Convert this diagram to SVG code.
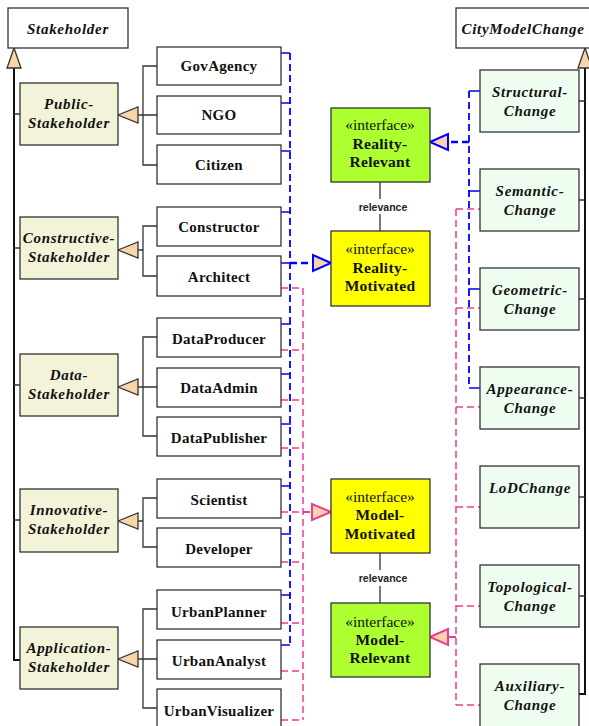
<svg xmlns="http://www.w3.org/2000/svg" width="589" height="726" viewBox="0 0 589 726">
<style>
.box{stroke:#333;stroke-width:1.3}
.leaf{fill:#fff}
.abs{fill:#f3f3da}
.chg{fill:#effdf0}
.ifg{fill:#adff2f}
.ify{fill:#ffff00}
.t{font-family:"Liberation Serif","Times New Roman",serif;font-size:15px;fill:#111;text-anchor:middle}
.b{font-weight:bold;letter-spacing:0.3px}
.bi{font-weight:bold;font-style:italic;letter-spacing:0.7px}
.if{font-size:15.5px}
.rel{font-family:"Liberation Sans",Arial,sans-serif;font-size:10.5px;font-weight:bold;fill:#222;text-anchor:middle}
.gen{stroke:#333;stroke-width:1.3;fill:none}
.gb{stroke:#111;stroke-width:2;fill:none}
.tri{fill:#f8d5a8;stroke:#333;stroke-width:1.3}
.blue{stroke:#0000ff;stroke-width:1.8;stroke-dasharray:7 4;fill:none}
.blues{stroke:#0000ff;stroke-width:1.3;fill:none}
.bluet{stroke:#0000ff;stroke-width:2.4;stroke-dasharray:7 4;fill:none}
.pink{stroke:#ee3a96;stroke-width:1.5;stroke-dasharray:7 4;fill:none}
.pinkt{stroke:#ee3a96;stroke-width:2;stroke-dasharray:7 4;fill:none}
.trib{fill:#f8d5a8;stroke:#0000ff;stroke-width:2}
.trip{fill:#f8d5a8;stroke:#ee3a96;stroke-width:2}
</style>
<g id="connectors">
<path class="gb" d="M14,68 V660 H20"/>
<path class="gen" d="M14,114 H20 M14,248 H20 M14,385 H20 M14,520 H20"/>
<polygon class="tri" points="14,48 7,68 21,68"/>
<path class="gb" d="M585,68 V694 H579"/>
<path class="gen" d="M579,101 H585 M579,200 H585 M579,299 H585 M579,398 H585 M579,497 H585 M579,596 H585"/>
<polygon class="tri" points="585,48 578,68 592,68"/>
<path class="gen" d="M138,115 H143 M157,66 H143 V165 H157 M143,115 H157"/>
<polygon class="tri" points="118,115 138,107 138,123"/>
<path class="gen" d="M138,250 H143 M157,226 H143 V276 H157"/>
<polygon class="tri" points="118,250 138,242 138,258"/>
<path class="gen" d="M138,387 H143 M157,337 H143 V436 H157 M143,387 H157"/>
<polygon class="tri" points="118,387 138,379 138,395"/>
<path class="gen" d="M138,521 H143 M157,498 H143 V547 H157"/>
<polygon class="tri" points="118,521 138,513 138,529"/>
<path class="gen" d="M138,659 H143 M157,609 H143 V708 H157 M143,659 H157"/>
<polygon class="tri" points="118,659 138,651 138,667"/>
<path class="blue" d="M290,53 V645"/>
<path class="blues" d="M281,53 H290 M281,103 H291 M281,151 H291 M281,212 H291 M281,263 H291 M281,324 H291 M281,374 H291 M281,424 H291 M281,486 H291 M281,534 H291 M281,595 H291 M281,645 H290"/>
<path class="bluet" d="M290,263 H313"/>
<polygon class="trib" points="331,263 313,255 313,271"/>
<path class="pink" d="M303,288 V720"/>
<path class="pink" d="M281,288 H303 M281,350 H303 M281,400 H303 M281,448 H303 M281,562 H303 M281,623 H303 M281,671 H303 M281,720 H303 M281,512 H303"/>
<path class="pinkt" d="M303,512 H312"/>
<polygon class="trip" points="331,512 312,504 312,520"/>
<path class="blue" d="M469,91 V388"/>
<path class="blues" d="M469,91 H480 M468,191 H480 M468,289 H480 M469,388 H480"/>
<path class="bluet" d="M469,142 H448"/>
<polygon class="trib" points="430,142 448,134 448,150"/>
<path class="pink" d="M456,209 V705"/>
<path class="pink" d="M456,209 H480 M456,308 H480 M456,407 H480 M456,507 H480 M456,606 H480 M456,705 H480"/>
<path class="pinkt" d="M456,637 H448"/>
<polygon class="trip" points="430,637 448,629 448,645"/>
<path class="gen" d="M380,182 V199 M380,214 V231 M380,553 V570 M380,586 V603"/>
<text class="rel" x="383" y="211">relevance</text>
<text class="rel" x="383" y="582">relevance</text>
</g>
<g id="Stakeholder"><rect class="box leaf" x="8" y="8" width="120" height="40"/><text class="t bi" x="68" y="34">Stakeholder</text></g>
<g id="CityModelChange"><rect class="box leaf" x="456" y="8" width="140" height="40"/><text class="t bi" x="523" y="34">CityModelChange</text></g>
<g id="PublicStakeholder"><rect class="box abs" x="20" y="83" width="98" height="62"/><text class="t bi" x="69" y="109">Public-</text><text class="t bi" x="69" y="128">Stakeholder</text></g>
<g id="ConstructiveStakeholder"><rect class="box abs" x="20" y="217" width="98" height="62"/><text class="t bi" x="69" y="243">Constructive-</text><text class="t bi" x="69" y="262">Stakeholder</text></g>
<g id="DataStakeholder"><rect class="box abs" x="20" y="354" width="98" height="62"/><text class="t bi" x="69" y="380">Data-</text><text class="t bi" x="69" y="399">Stakeholder</text></g>
<g id="InnovativeStakeholder"><rect class="box abs" x="20" y="489" width="98" height="63"/><text class="t bi" x="69" y="515">Innovative-</text><text class="t bi" x="69" y="534">Stakeholder</text></g>
<g id="ApplicationStakeholder"><rect class="box abs" x="20" y="627" width="98" height="62"/><text class="t bi" x="69" y="653">Application-</text><text class="t bi" x="69" y="672">Stakeholder</text></g>
<g id="GovAgency"><rect class="box leaf" x="157" y="47" width="124" height="38"/><text class="t b" x="219" y="71">GovAgency</text></g>
<g id="NGO"><rect class="box leaf" x="157" y="96" width="124" height="38"/><text class="t b" x="219" y="120">NGO</text></g>
<g id="Citizen"><rect class="box leaf" x="157" y="145" width="124" height="39"/><text class="t b" x="219" y="170">Citizen</text></g>
<g id="Constructor"><rect class="box leaf" x="157" y="207" width="124" height="39"/><text class="t b" x="219" y="232">Constructor</text></g>
<g id="Architect"><rect class="box leaf" x="157" y="256" width="124" height="40"/><text class="t b" x="219" y="282">Architect</text></g>
<g id="DataProducer"><rect class="box leaf" x="157" y="318" width="124" height="39"/><text class="t b" x="219" y="344">DataProducer</text></g>
<g id="DataAdmin"><rect class="box leaf" x="157" y="368" width="124" height="39"/><text class="t b" x="219" y="393">DataAdmin</text></g>
<g id="DataPublisher"><rect class="box leaf" x="157" y="417" width="124" height="39"/><text class="t b" x="219" y="443">DataPublisher</text></g>
<g id="Scientist"><rect class="box leaf" x="157" y="479" width="124" height="39"/><text class="t b" x="219" y="505">Scientist</text></g>
<g id="Developer"><rect class="box leaf" x="157" y="528" width="124" height="39"/><text class="t b" x="219" y="554">Developer</text></g>
<g id="UrbanPlanner"><rect class="box leaf" x="157" y="590" width="124" height="39"/><text class="t b" x="219" y="617">UrbanPlanner</text></g>
<g id="UrbanAnalyst"><rect class="box leaf" x="157" y="640" width="124" height="39"/><text class="t b" x="219" y="666">UrbanAnalyst</text></g>
<g id="UrbanVisualizer"><rect class="box leaf" x="157" y="689" width="124" height="40"/><text class="t b" x="219" y="716">UrbanVisualizer</text></g>
<g id="RealityRelevant"><rect class="box ifg" x="331" y="108" width="99" height="74"/><text class="t if" x="380" y="130">«interface»</text><text class="t b if" x="380" y="149">Reality-</text><text class="t b if" x="380" y="167">Relevant</text></g>
<g id="RealityMotivated"><rect class="box ify" x="331" y="231" width="99" height="75"/><text class="t if" x="380" y="254">«interface»</text><text class="t b if" x="380" y="273">Reality-</text><text class="t b if" x="380" y="291">Motivated</text></g>
<g id="ModelMotivated"><rect class="box ify" x="331" y="479" width="99" height="74"/><text class="t if" x="380" y="502">«interface»</text><text class="t b if" x="380" y="520">Model-</text><text class="t b if" x="380" y="539">Motivated</text></g>
<g id="ModelRelevant"><rect class="box ifg" x="331" y="603" width="99" height="74"/><text class="t if" x="380" y="627">«interface»</text><text class="t b if" x="380" y="645">Model-</text><text class="t b if" x="380" y="663">Relevant</text></g>
<g id="StructuralChange"><rect class="box chg" x="480" y="70" width="99" height="62"/><text class="t bi" x="530" y="97">Structural-</text><text class="t bi" x="530" y="116">Change</text></g>
<g id="SemanticChange"><rect class="box chg" x="480" y="169" width="99" height="62"/><text class="t bi" x="530" y="196">Semantic-</text><text class="t bi" x="530" y="215">Change</text></g>
<g id="GeometricChange"><rect class="box chg" x="480" y="268" width="99" height="62"/><text class="t bi" x="530" y="295">Geometric-</text><text class="t bi" x="530" y="314">Change</text></g>
<g id="AppearanceChange"><rect class="box chg" x="480" y="367" width="99" height="62"/><text class="t bi" x="530" y="394">Appearance-</text><text class="t bi" x="530" y="413">Change</text></g>
<g id="LoDChange"><rect class="box chg" x="480" y="466" width="99" height="62"/><text class="t bi" x="530" y="493">LoDChange</text></g>
<g id="TopologicalChange"><rect class="box chg" x="480" y="565" width="99" height="62"/><text class="t bi" x="530" y="592">Topological-</text><text class="t bi" x="530" y="611">Change</text></g>
<g id="AuxiliaryChange"><rect class="box chg" x="480" y="664" width="99" height="64"/><text class="t bi" x="530" y="691">Auxiliary-</text><text class="t bi" x="530" y="710">Change</text></g>
</svg>
